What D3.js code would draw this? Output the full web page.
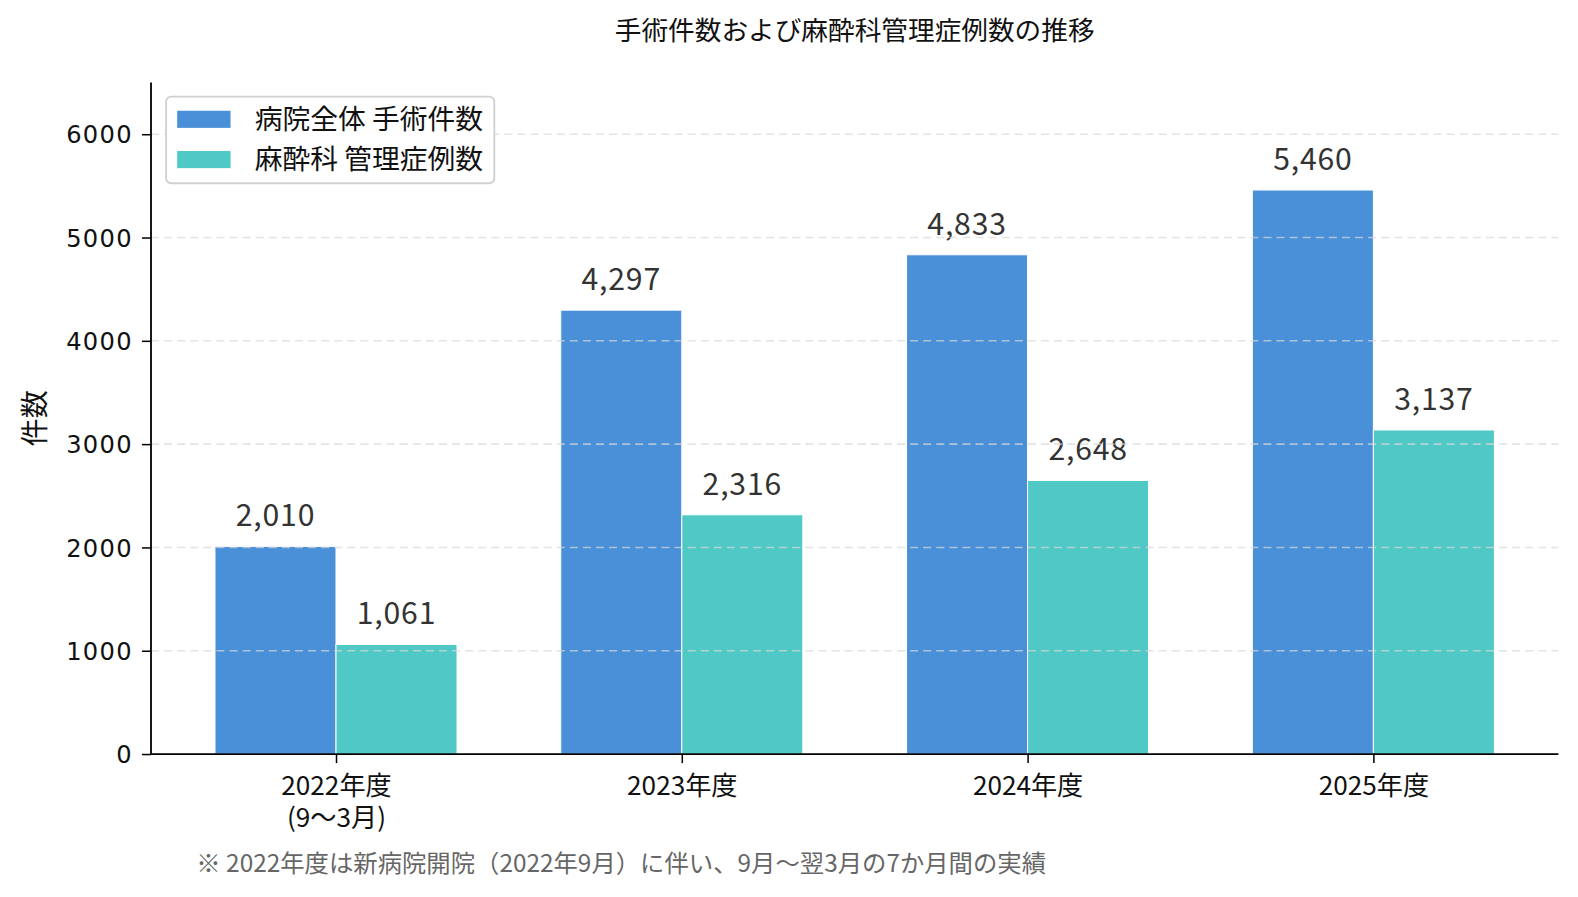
<!DOCTYPE html>
<html>
<head>
<meta charset="utf-8">
<script src="https://cdn.jsdelivr.net/npm/d3@7"></script>
<style>
  html, body { margin: 0; padding: 0; background: #fff; overflow: hidden; }
  svg { display: block; }
  text { font-family: "Noto Sans CJK JP", "Noto Sans", sans-serif; }
</style>
</head>
<body>
<svg id="chart" width="1578" height="897" viewBox="0 0 1567.5 891"></svg>
<script>
var categories = ['2022年度\n(9〜3月)', '2023年度', '2024年度', '2025年度'];
var surgeries = [2010, 4297, 4833, 5460];
var anesthesia = [1061, 2316, 2648, 3137];
var yTicks = [0, 1000, 2000, 3000, 4000, 5000, 6000];
var seriesNames = ['病院全体 手術件数', '麻酔科 管理症例数'];
var colors = ['#4a90d9', '#50c8c5'];

var plotLeft = 150, plotRight = 1548, plotTop = 82, plotBottom = 749;
var barW = 0.35;

var svg = d3.select('#chart');

var x = d3.scaleLinear()
  .domain([-0.535, categories.length - 1 + 0.535])
  .range([plotLeft, plotRight]);

var y = d3.scaleLinear()
  .domain([0, 6500])
  .range([plotBottom, plotTop]);

// title
svg.append('text')
  .attr('x', (plotLeft + plotRight) / 2)
  .attr('y', 40)
  .attr('text-anchor', 'middle')
  .attr('font-size', 26.5)
  .attr('fill', '#111')
  .text('手術件数および麻酔科管理症例数の推移');

// bars
var series = [surgeries, anesthesia];
series.forEach(function(vals, s) {
  svg.append('g')
    .selectAll('rect')
    .data(vals)
    .enter()
    .append('rect')
      .attr('x', function(d, i) { return x(i + (s === 0 ? -barW : 0)); })
      .attr('y', function(d) { return y(d); })
      .attr('width', x(barW) - x(0))
      .attr('height', function(d) { return y(0) - y(d); })
      .attr('fill', colors[s])
      .attr('stroke', '#fff')
      .attr('stroke-width', 1);

  svg.append('g')
    .selectAll('text')
    .data(vals)
    .enter()
    .append('text')
      .attr('x', function(d, i) { return x(i + (s === 0 ? -barW / 2 : barW / 2)); })
      .attr('y', function(d) { return y(d) - 20; })
      .attr('text-anchor', 'middle')
      .attr('font-size', 30)
      .attr('letter-spacing', 0.8)
      .attr('fill', '#333')
      .text(function(d) { return d3.format(',')(d); });
});

// grid (drawn over bars, light)
svg.append('g')
  .selectAll('line')
  .data(yTicks.slice(1))
  .enter()
  .append('line')
    .attr('x1', plotLeft)
    .attr('x2', plotRight)
    .attr('y1', function(d) { return y(d); })
    .attr('y2', function(d) { return y(d); })
    .attr('stroke', '#d8d8d8')
    .attr('stroke-opacity', 0.7)
    .attr('stroke-width', 1.5)
    .attr('stroke-dasharray', '8,5');

// y axis
var axisY = d3.axisLeft(y)
  .tickValues(yTicks)
  .tickSize(9)
  .tickPadding(9)
  .tickFormat(d3.format('d'));

var gy = svg.append('g')
  .attr('transform', 'translate(' + plotLeft + ',0)')
  .call(axisY);
gy.select('.domain').attr('stroke', '#000').attr('stroke-width', 1.8)
  .attr('d', 'M0,' + plotBottom + 'V' + plotTop);
gy.selectAll('.tick line').attr('stroke', '#000').attr('stroke-width', 1.5);
gy.selectAll('.tick text')
  .attr('font-size', 24)
  .attr('fill', '#111')
  .style('font-family', '"DejaVu Sans", sans-serif')
  .attr('letter-spacing', 1.3)
  .attr('dy', '0.36em');

// x axis
var axisX = d3.axisBottom(x)
  .tickValues(d3.range(categories.length))
  .tickSize(9)
  .tickFormat('');

var gx = svg.append('g')
  .attr('transform', 'translate(0,' + plotBottom + ')')
  .call(axisX);
gx.select('.domain').attr('stroke', '#000').attr('stroke-width', 1.8)
  .attr('d', 'M' + plotLeft + ',0H' + plotRight);
gx.selectAll('.tick line').attr('stroke', '#000').attr('stroke-width', 1.5);

gx.selectAll('.tick')
  .append('text')
    .attr('text-anchor', 'middle')
    .attr('font-size', 26)
    .attr('fill', '#111')
    .each(function(d) {
      var lines = categories[d].split('\n');
      var t = d3.select(this);
      lines.forEach(function(l, k) {
        t.append('tspan')
          .attr('x', 0)
          .attr('y', 41 + k * 31)
          .text(l);
      });
    });

// y label
svg.append('text')
  .attr('transform', 'translate(45,' + ((plotTop + plotBottom) / 2) + ') rotate(-90)')
  .attr('text-anchor', 'middle')
  .attr('font-size', 28)
  .attr('fill', '#111')
  .text('件数');

// legend
var lg = svg.append('g');
lg.append('rect')
  .attr('x', 165).attr('y', 96)
  .attr('width', 326).attr('height', 86)
  .attr('rx', 5)
  .attr('fill', '#fff')
  .attr('stroke', '#d0d0d0')
  .attr('stroke-width', 1.8);

seriesNames.forEach(function(name, i) {
  lg.append('rect')
    .attr('x', 176)
    .attr('y', 110 + i * 40)
    .attr('width', 53)
    .attr('height', 17)
    .attr('fill', colors[i]);
  lg.append('text')
    .attr('x', 253)
    .attr('y', 128 + i * 40)
    .attr('font-size', 27.6)
    .attr('fill', '#111')
    .text(name);
});

// footnote
svg.append('text')
  .attr('x', 195)
  .attr('y', 866)
  .attr('font-size', 24.2)
  .attr('fill', '#666')
  .text('※ 2022年度は新病院開院（2022年9月）に伴い、9月〜翌3月の7か月間の実績');
</script>
</body>
</html>
